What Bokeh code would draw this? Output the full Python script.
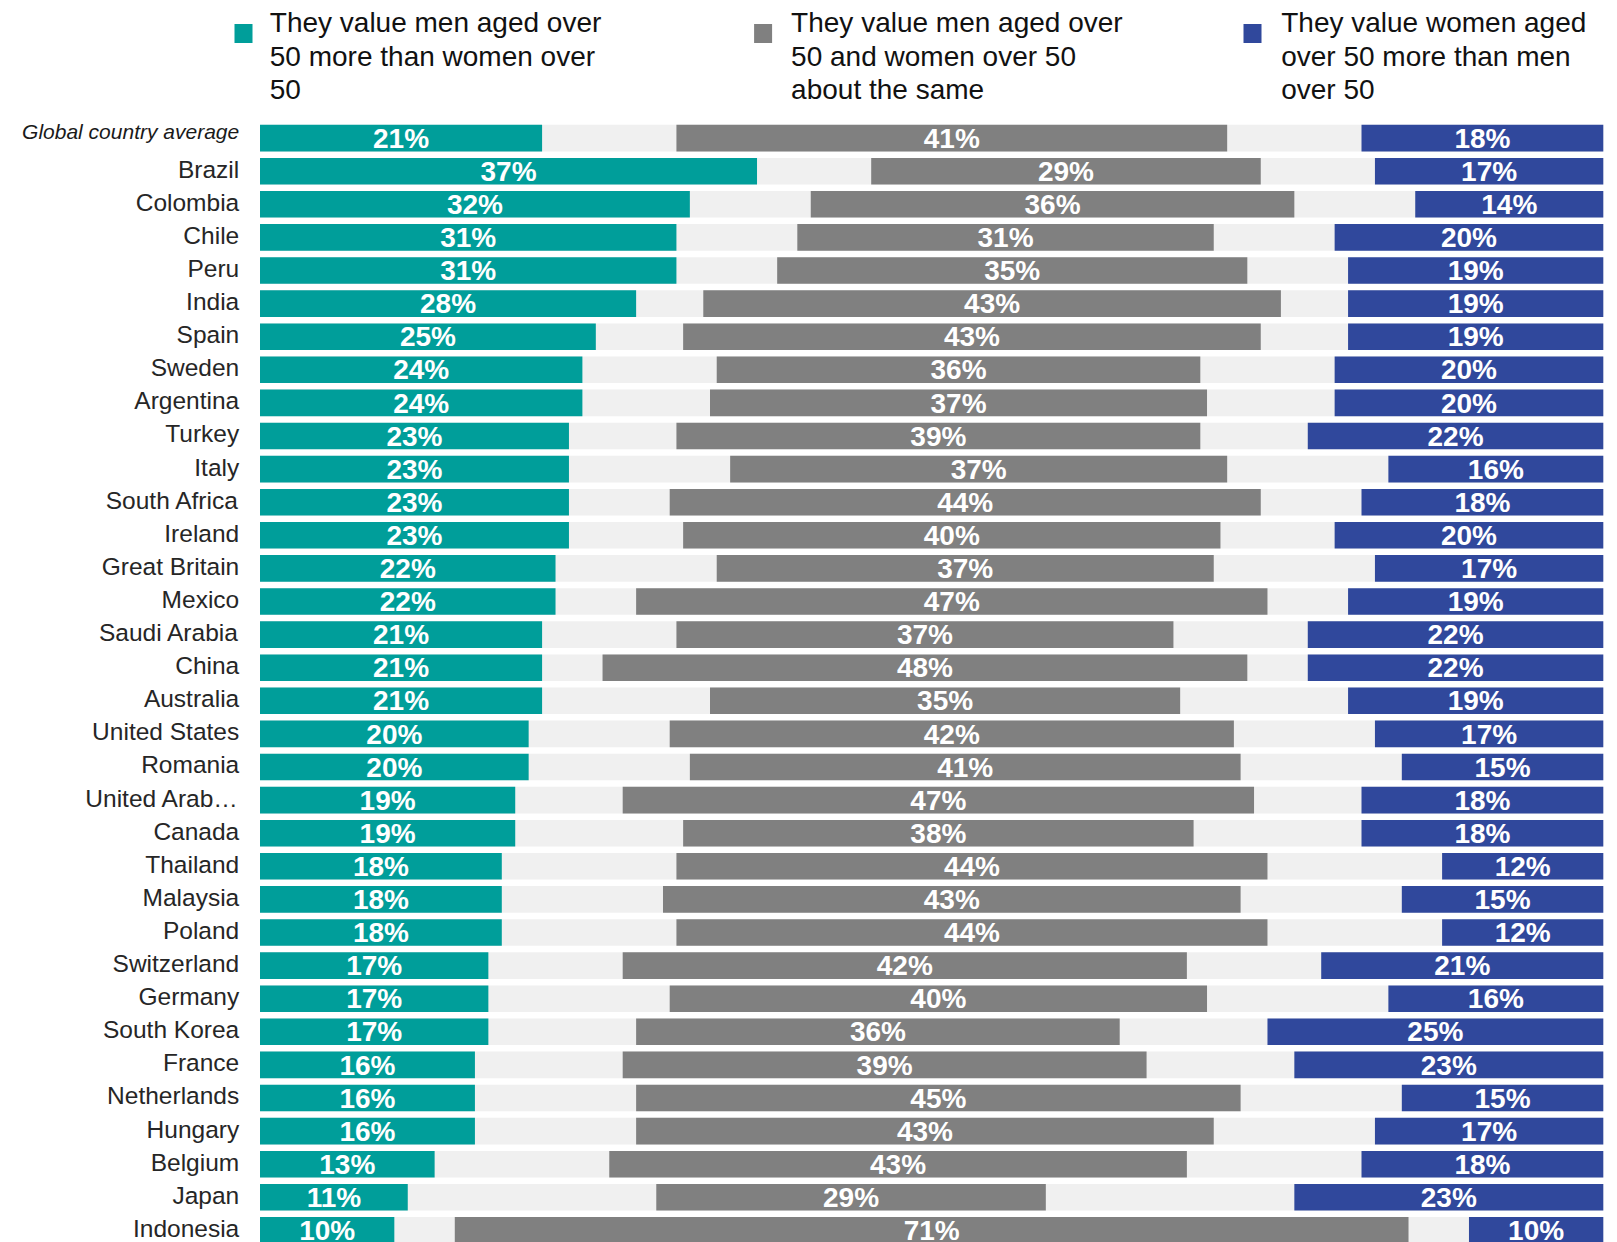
from bokeh.plotting import figure
from bokeh.models import ColumnDataSource, Range1d
from bokeh.core.properties import value
from bokeh.embed import file_html
from bokeh.resources import INLINE

# ---------------- data ----------------
countries = ["Global country average", "Brazil", "Colombia", "Chile", "Peru", "India",
             "Spain", "Sweden", "Argentina", "Turkey", "Italy", "South Africa", "Ireland",
             "Great Britain", "Mexico", "Saudi Arabia", "China", "Australia",
             "United States", "Romania", "United Arab\u2026", "Canada", "Thailand",
             "Malaysia", "Poland", "Switzerland", "Germany", "South Korea", "France",
             "Netherlands", "Hungary", "Belgium", "Japan", "Indonesia"]
men_more = [21, 37, 32, 31, 31, 28, 25, 24, 24, 23, 23, 23, 23, 22, 22, 21, 21, 21,
            20, 20, 19, 19, 18, 18, 18, 17, 17, 17, 16, 16, 16, 13, 11, 10]
same = [41, 29, 36, 31, 35, 43, 43, 36, 37, 39, 37, 44, 40, 37, 47, 37, 48, 35,
        42, 41, 47, 38, 44, 43, 44, 42, 40, 36, 39, 45, 43, 43, 29, 71]
women_more = [18, 17, 14, 20, 19, 19, 19, 20, 20, 22, 16, 18, 20, 17, 19, 22, 22, 19,
              17, 15, 18, 18, 12, 15, 12, 21, 16, 25, 23, 15, 17, 18, 23, 10]

legend_labels = [
    ["They value men aged over", "50 more than women over", "50"],
    ["They value men aged over", "50 and women over 50", "about the same"],
    ["They value women aged", "over 50 more than men", "over 50"],
]

TEAL = "#009E9A"
GRAY = "#808080"
BLUE = "#30489C"
LIGHT = "#F0F0F0"

# ---------------- layout ----------------
W, H = 1617, 1242
PAGE = 0
PLOT_L, PLOT_R = 259.5, 1602.8         # window px of 0% and 100%
ROW0, PITCH = 137.6, 33.1              # window px of first row centre, row pitch
PPX = (PLOT_R - PLOT_L) / 100.0
BASE_FIX = 0.37                        # alphabetic baseline correction (em)

def xd(px):
    return (px - PLOT_L) / PPX

def yd(py):
    return (py - ROW0) / PITCH

x0, x1 = xd(PAGE), xd(PAGE + W)
ytop, ybot = yd(PAGE), yd(PAGE + H)

p = figure(width=W, height=H, output_backend="svg", toolbar_location=None,
           x_axis_type=None, y_axis_type=None,
           x_range=Range1d(x0, x1), y_range=Range1d(ybot, ytop),
           min_border=0, min_border_left=0, min_border_right=0,
           min_border_top=0, min_border_bottom=0)
p.outline_line_color = None
p.background_fill_color = "white"
p.border_fill_color = "white"

n = len(countries)
rows = list(range(n))
gap = [(100 - m - s - w) / 2.0 for m, s, w in zip(men_more, same, women_more)]
teal_r = men_more
gray_l = [m + g for m, g in zip(men_more, gap)]
gray_r = [gl + s for gl, s in zip(gray_l, same)]
blue_l = [100 - w for w in women_more]

src = ColumnDataSource(dict(
    y=rows, country=countries,
    zero=[0] * n, hundred=[100] * n,
    teal_r=teal_r, gray_l=gray_l, gray_r=gray_r, blue_l=blue_l,
    teal_c=[r / 2.0 for r in teal_r],
    gray_c=[(a + b) / 2.0 for a, b in zip(gray_l, gray_r)],
    blue_c=[(a + 100) / 2.0 for a in blue_l],
    teal_t=[f"{v}%" for v in men_more],
    gray_t=[f"{v}%" for v in same],
    blue_t=[f"{v}%" for v in women_more],
))

BH = 0.805
p.hbar(y="y", left="zero", right="hundred", height=BH, source=src,
       fill_color=LIGHT, line_color=None)
p.hbar(y="y", left="zero", right="teal_r", height=BH, source=src,
       fill_color=TEAL, line_color=None)
p.hbar(y="y", left="gray_l", right="gray_r", height=BH, source=src,
       fill_color=GRAY, line_color=None)
p.hbar(y="y", left="blue_l", right="hundred", height=BH, source=src,
       fill_color=BLUE, line_color=None)

VS = 28
for col_x, col_t in (("teal_c", "teal_t"), ("gray_c", "gray_t"), ("blue_c", "blue_t")):
    p.text(x=col_x, y="y", text=col_t, source=src,
           text_font=value("Liberation Sans"), text_font_style="bold",
           text_font_size=f"{VS}px", text_color="white",
           text_align="center", text_baseline="alphabetic",
           y_offset=10.5 - BASE_FIX * VS)

# country labels
CS = 24.5
csrc = ColumnDataSource(dict(y=rows[1:], country=countries[1:], zero=[0] * (n - 1)))
p.text(x="zero", y="y", text="country", source=csrc,
       text_font=value("Liberation Sans"), text_font_size=f"{CS}px",
       text_color="#262626", text_align="right", text_baseline="alphabetic",
       x_offset=-20.8, y_offset=7 - BASE_FIX * CS)
GS = 21
gsrc = ColumnDataSource(dict(y=rows[:1], country=countries[:1], zero=[0]))
p.text(x="zero", y="y", text="country", source=gsrc,
       text_font=value("Liberation Sans"), text_font_style="italic",
       text_font_size=f"{GS}px", text_color="#1a1a1a", text_align="right",
       text_baseline="alphabetic", x_offset=-20.8, y_offset=1.3 - BASE_FIX * GS)

# legend
LS = 28
sq_x = [243.0, 762.6, 1252.0]
tx_x = [269.3, 790.6, 1280.7]
sq_y = 33.0
line_base = [32.5, 66.0, 99.5]
colors = [TEAL, GRAY, BLUE]
p.rect(x=[xd(v) for v in sq_x], y=[yd(sq_y)] * 3, width=18, height=19,
       width_units="screen", height_units="screen",
       fill_color=colors, line_color=None)
lx, ly, lt = [], [], []
for k in range(3):
    for j, line in enumerate(legend_labels[k]):
        lx.append(xd(tx_x[k]))
        ly.append(yd(line_base[j]))
        lt.append(line)
p.text(x=lx, y=ly, text=lt, text_font=value("Liberation Sans"),
       text_font_size=f"{LS}px", text_color="#111111",
       text_align="left", text_baseline="alphabetic", y_offset=-BASE_FIX * LS)

open("out.html", "w").write(file_html(p, INLINE))
